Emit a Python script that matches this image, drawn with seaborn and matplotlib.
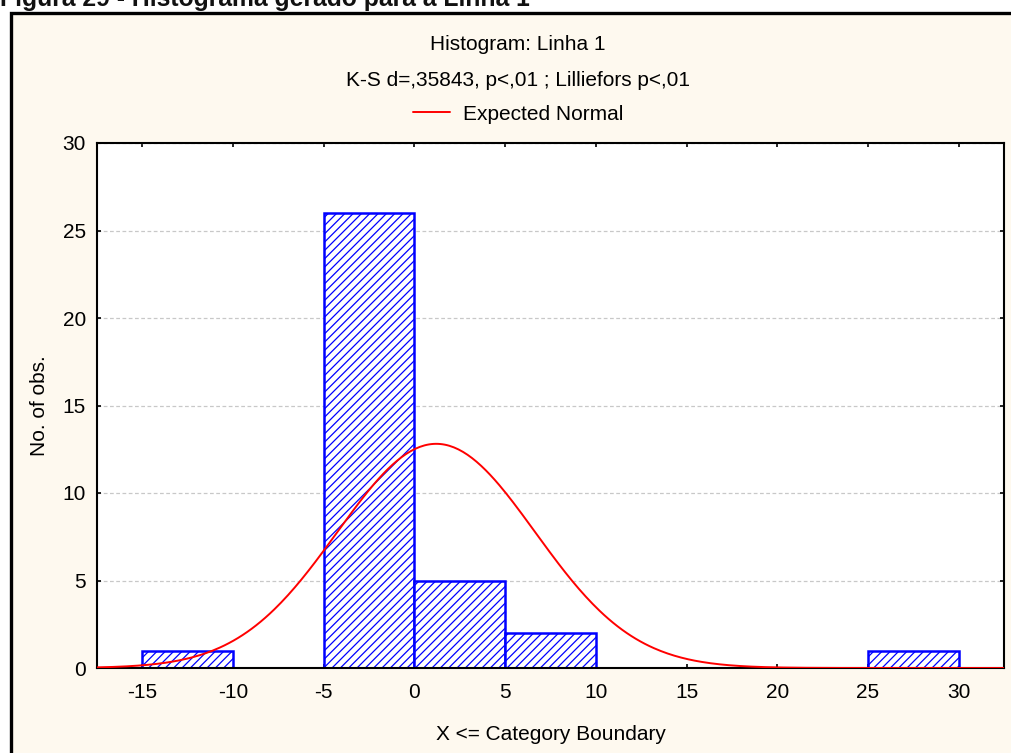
import numpy as np
import pandas as pd
import matplotlib
matplotlib.use("Agg")
import matplotlib.pyplot as plt
from matplotlib.patches import Rectangle
import seaborn as sns

# ---- data ----
bin_edges = [-15, -10, -5, 0, 5, 10, 15, 20, 25, 30]
bin_counts = [1, 0, 26, 5, 2, 0, 0, 0, 1]
normal_mean = 1.2
normal_sd = 5.45
n_obs = 35
bin_width = 5
x_ticks = [-15, -10, -5, 0, 5, 10, 15, 20, 25, 30]
y_ticks = [0, 5, 10, 15, 20, 25, 30]

sns.set_theme(style="white")
plt.rcParams["font.family"] = ["Liberation Sans", "DejaVu Sans"]
plt.rcParams["text.color"] = "black"
plt.rcParams["axes.labelcolor"] = "black"
plt.rcParams["hatch.linewidth"] = 0.9
plt.rcParams["hatch.color"] = "#0000ff"

FS = 15

fig = plt.figure(figsize=(10.11, 7.53), dpi=100)
fig.patch.set_facecolor("white")

W, H = 1011, 753
# outer frame (cream panel with thick black border)
frame = Rectangle((10.5 / W, -0.05), 1.05, 1 - 13.5 / H + 0.05, transform=fig.transFigure,
                  facecolor="#fef9ef", edgecolor="black", linewidth=2.4, zorder=-10)
fig.patches.append(frame)

fig.text(0.0, 1 - 6 / H, "Figura 29 - Histograma gerado para a Linha 1",
         ha="left", va="baseline", fontsize=17.8, fontweight="bold", color="#111111")

ax = fig.add_axes([97 / W, 1 - 668 / H, 907 / W, 525 / H])
ax.set_zorder(5)
ax.set_facecolor("white")

centers = [(bin_edges[i] + bin_edges[i + 1]) / 2 for i in range(len(bin_counts))]
df = pd.DataFrame({"x": centers, "w": bin_counts})
sns.histplot(data=df, x="x", weights="w", bins=bin_edges, ax=ax,
             facecolor="white", edgecolor="#0000ff", linewidth=1.8, alpha=1.0)
for p in ax.patches:
    if p.get_height() == 0:
        p.set_visible(False)
    else:
        p.set_hatch("////")
        p.set_edgecolor("#0000ff")
        p.set_zorder(2)

xs = np.linspace(-17.5, 32.5, 400)
ys = n_obs * bin_width * np.exp(-0.5 * ((xs - normal_mean) / normal_sd) ** 2) / (normal_sd * np.sqrt(2 * np.pi))
sns.lineplot(x=xs, y=ys, ax=ax, color="#ff0000", linewidth=1.4, label="Expected Normal", zorder=3)

ax.set_xlim(-17.5, 32.5)
ax.set_ylim(0, 30)
ax.set_xticks(x_ticks)
ax.set_yticks(y_ticks)
ax.set_xticklabels([str(t) for t in x_ticks])
ax.set_yticklabels([str(t) for t in y_ticks])
ax.tick_params(axis="both", direction="in", length=3, width=1.2, colors="black",
               labelsize=FS, top=True, right=True, bottom=True, left=True)
ax.tick_params(axis="x", pad=11)
ax.tick_params(axis="y", pad=8)
ax.yaxis.grid(True, color="#c8c8c8", linestyle=(0, (3, 2)), linewidth=0.9)
ax.xaxis.grid(False)
ax.set_axisbelow(True)
for s in ax.spines.values():
    s.set_color("black")
    s.set_linewidth(1.5)
    s.set_visible(True)

ax.set_xlabel("X <= Category Boundary", fontsize=FS, labelpad=16, color="black")
ax.set_ylabel("No. of obs.", fontsize=FS, labelpad=10, color="black")

fig.text(518 / W, 1 - 45 / H, "Histogram: Linha 1", ha="center", va="center", fontsize=FS, color="black")
fig.text(518 / W, 1 - 80 / H, "K-S d=,35843, p<,01 ; Lilliefors p<,01", ha="center", va="center",
         fontsize=FS, color="black")
leg = ax.legend(loc="center", bbox_to_anchor=(518 / W, 1 - 114 / H), bbox_transform=fig.transFigure,
                frameon=False, fontsize=FS, handlelength=1.8, handletextpad=0.6, labelcolor="black")

fig.savefig("out.png", dpi=100, facecolor=fig.get_facecolor())
